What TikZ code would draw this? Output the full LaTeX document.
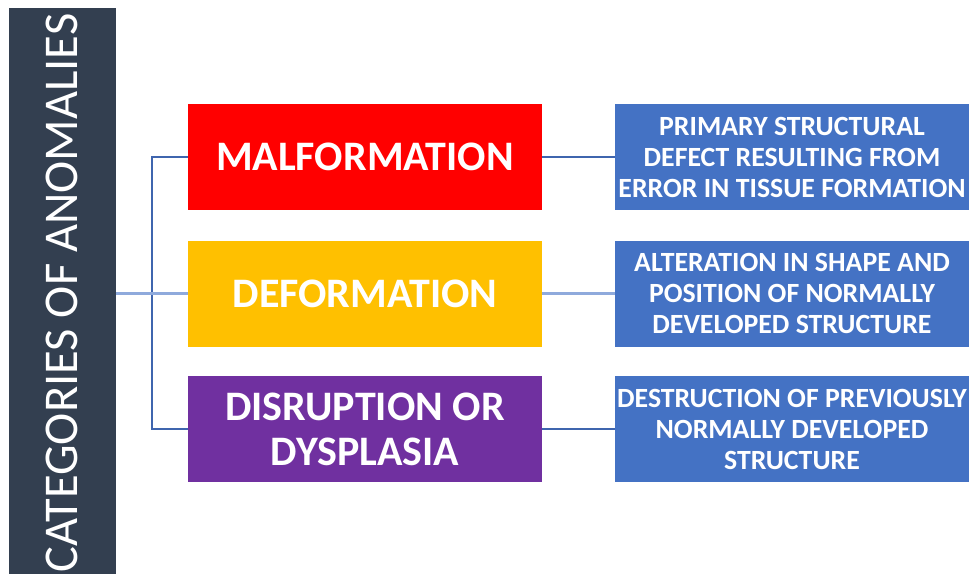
\documentclass[tikz,border=0pt]{standalone}
\usepackage{fontspec}
\setmainfont{Carlito}
\definecolor{barc}{HTML}{333F50}
\definecolor{redc}{HTML}{FF0000}
\definecolor{yelc}{HTML}{FFC000}
\definecolor{purc}{HTML}{7030A0}
\definecolor{bluc}{HTML}{4472C4}
\definecolor{linec}{HTML}{3F65AE}
\definecolor{linel}{HTML}{8FAADC}
\begin{document}
\begin{tikzpicture}[x=1pt,y=-1pt,
  catbox/.style={rectangle,minimum width=354pt,minimum height=106pt,inner sep=0pt,
    text=white,font=\bfseries\fontsize{42}{45}\selectfont,align=center},
  descbox/.style={rectangle,fill=bluc,minimum width=354pt,minimum height=106pt,inner sep=0pt,
    text=white,font=\bfseries\fontsize{27.8}{31}\selectfont,align=center},
  conn/.style={draw=linec,line width=1.6pt},
  connl/.style={draw=linel,line width=3pt}]
\useasboundingbox (0,0) rectangle (972,574);
\fill[white] (0,0) rectangle (972,574);
\node[rectangle,fill=barc,minimum width=107pt,minimum height=566pt,inner sep=0pt] (bar) at (62.5,291) {};
\node[rotate=90,text=white,font=\fontsize{48.5}{50}\selectfont] (bartext) at (62,293) {CATEGORIES OF ANOMALIES};
\node[catbox,fill=redc] (m) at (365,157) {MALFORMATION};
\node[catbox,fill=yelc] (d) at (365,293.5) {DEFORMATION};
\node[catbox,fill=purc] (s) at (365,429) {DISRUPTION OR\\DYSPLASIA};
\node[descbox] (dm) at (792,157) {PRIMARY STRUCTURAL\\DEFECT RESULTING FROM\\ERROR IN TISSUE FORMATION};
\node[descbox] (dd) at (792,293.5) {ALTERATION IN SHAPE AND\\POSITION OF NORMALLY\\DEVELOPED STRUCTURE};
\node[descbox] (ds) at (792,429) {DESTRUCTION OF PREVIOUSLY\\NORMALLY DEVELOPED\\STRUCTURE};
\coordinate (trunk) at (152,157);
\draw[conn] (m.west) -- (trunk) |- (s.west);
\draw[connl] (bar.east |- d.west) -- (d.west);
\draw[conn] (m.east) -- (dm.west);
\draw[connl] (d.east) -- (dd.west);
\draw[conn] (s.east) -- (ds.west);
\end{tikzpicture}
\end{document}
